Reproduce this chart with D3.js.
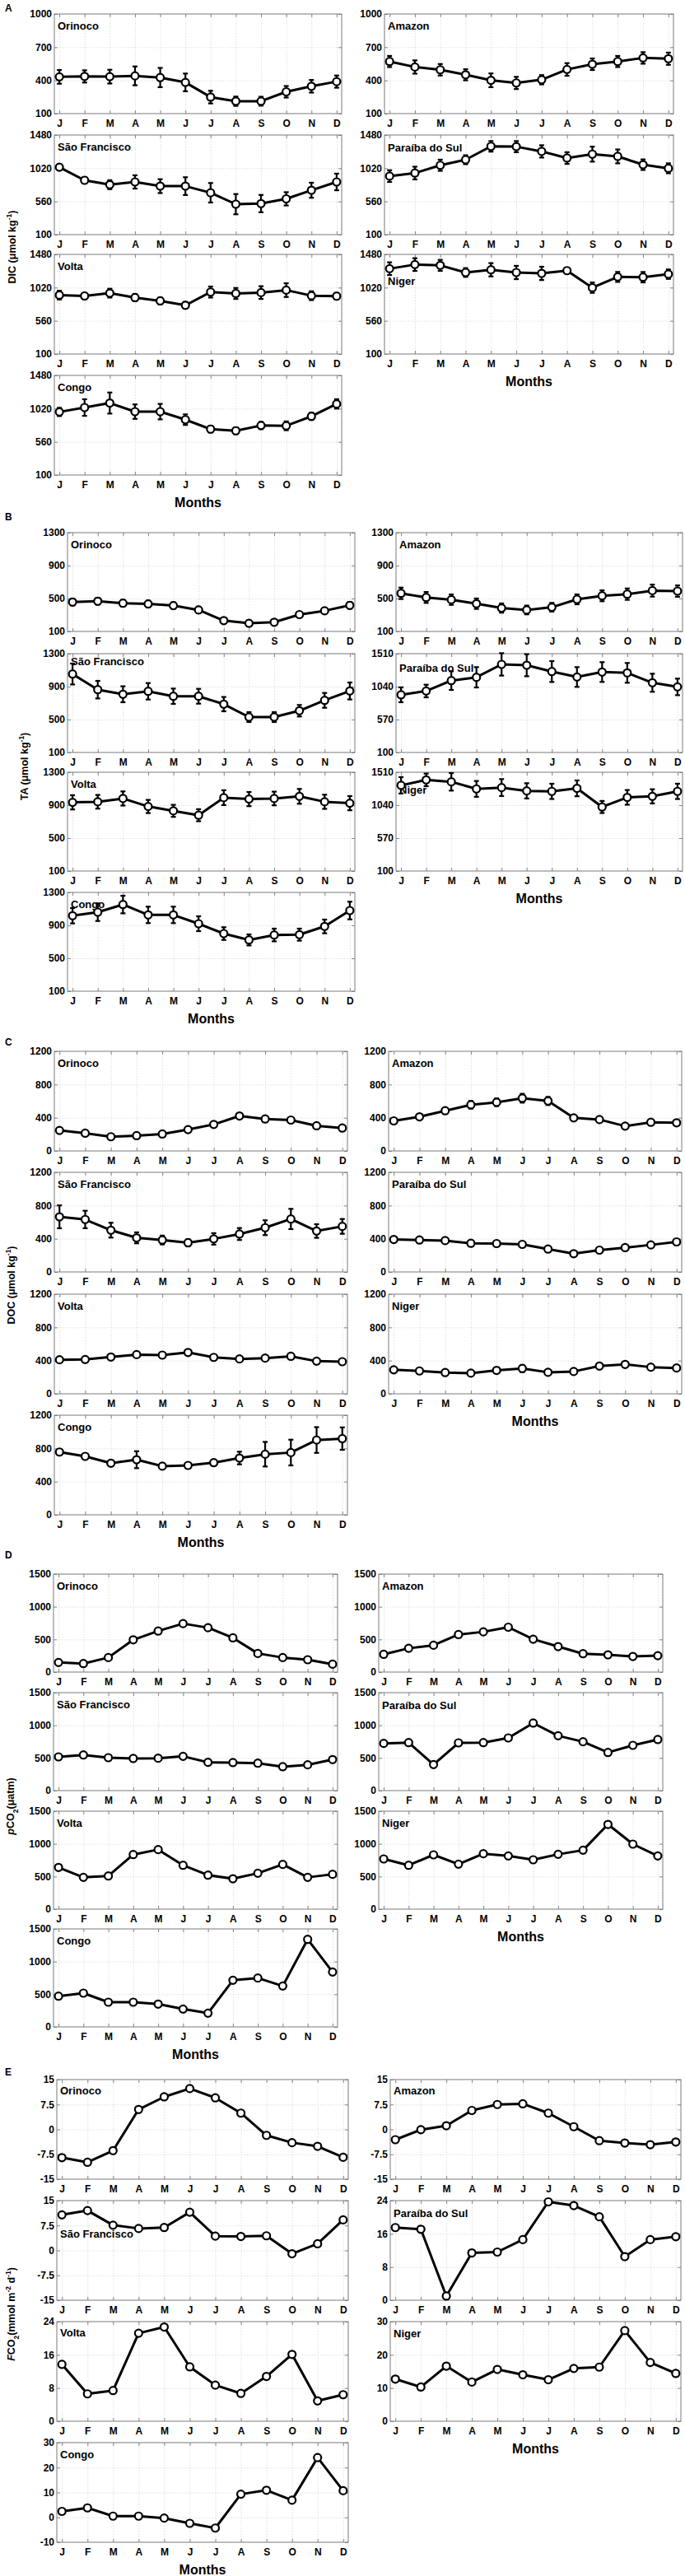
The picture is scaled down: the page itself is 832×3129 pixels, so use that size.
<!DOCTYPE html>
<html>
<head>
<meta charset="utf-8">
<script src="https://cdn.jsdelivr.net/npm/d3@7"></script>
<style>
  body { margin: 0; background: #fff; }
  svg { display: block; font-family: "Liberation Sans", Arial, Helvetica, sans-serif; font-weight: bold; }
  .grid line { stroke: #c8c8c8; stroke-width: 0.7; stroke-dasharray: 1.2 2; }
  .grid .domain { display: none; }
  .ax .domain { display: none; }
  .ax line { stroke: #7a7a7a; stroke-width: 0.9; }
  .ax text { fill: #000; font-size: 12px; font-weight: bold; }
</style>
</head>
<body>
<script>
const months = ["J","F","M","A","M","J","J","A","S","O","N","D"];
const rivers = ["Orinoco","Amazon","São Francisco","Paraíba do Sul","Volta","Niger","Congo"];

// A: DIC (umol/kg)
const dicVal = [
  [432,436,434,441,426,382,249,212,212,297,347,389],
  [571,521,496,451,401,377,406,499,546,571,603,596],
  [1034,853,792,830,772,772,680,522,530,596,715,830],
  [911,953,1061,1138,1323,1319,1253,1161,1215,1184,1069,1019],
  [916,904,943,882,836,775,958,939,951,985,908,901],
  [1282,1339,1328,1229,1267,1229,1217,1255,1019,1168,1164,1206],
  [974,1035,1097,978,978,867,736,713,786,782,913,1085]
];
const dicErr = [
  [62,55,62,85,87,80,57,42,40,52,57,55],
  [50,60,52,50,62,55,42,57,52,50,52,55],
  [42,45,62,92,96,123,135,140,120,92,104,115],
  [81,88,77,62,73,77,85,81,104,96,73,69],
  [61,42,61,50,46,46,76,76,88,95,61,46],
  [88,88,76,61,92,92,92,38,72,69,72,65],
  [57,115,146,100,107,73,46,46,50,61,50,65]
];
const dicTicks = [
  [100,400,700,1000],[100,400,700,1000],
  [100,560,1020,1480],[100,560,1020,1480],
  [100,560,1020,1480],[100,560,1020,1480],
  [100,560,1020,1480]
];

// B: TA (umol/kg)
const taVal = [
  [457,467,443,434,414,361,232,199,212,305,351,417],
  [563,513,486,437,384,361,394,490,533,553,596,590],
  [1053,863,807,843,783,783,687,530,530,607,733,847],
  [923,977,1126,1173,1357,1345,1255,1177,1248,1236,1095,1036],
  [934,941,981,884,831,778,991,974,981,1007,941,924],
  [1323,1401,1373,1272,1291,1244,1237,1280,1014,1151,1166,1237],
  [1017,1060,1153,1027,1027,920,800,723,783,787,887,1080]
];
const taErr = [
  [40,40,40,40,40,40,33,33,33,33,33,40],
  [69,66,63,63,56,53,53,60,66,69,73,69],
  [127,107,97,100,93,90,87,60,60,70,90,103],
  [106,90,133,145,160,157,149,141,141,141,129,118],
  [86,83,86,80,73,73,90,86,83,90,86,86],
  [117,90,125,113,121,109,109,113,86,105,101,109],
  [93,107,107,100,100,90,77,67,77,73,83,107]
];
const taTicks = [
  [100,500,900,1300],[100,500,900,1300],
  [100,500,900,1300],[100,570,1040,1510],
  [100,500,900,1300],[100,570,1040,1510],
  [100,500,900,1300]
];

// C: DOC (umol/kg)
const docVal = [
  [247,214,171,184,204,257,319,421,385,372,303,276],
  [362,411,484,556,586,635,602,398,378,299,345,339],
  [664,632,503,411,385,352,398,457,533,638,493,549],
  [391,385,378,345,342,332,276,220,263,293,326,362],
  [410,413,443,472,466,498,439,420,430,452,393,387],
  [289,275,256,249,282,305,259,269,334,354,321,311],
  [756,704,622,664,586,595,628,684,730,750,901,918]
];
const docErr = [
  [26,26,26,26,26,26,26,33,26,26,26,26],
  [26,26,33,46,46,53,49,26,26,26,26,26],
  [138,105,89,66,53,43,69,72,89,122,82,89],
  [20,20,20,20,20,20,20,20,20,20,20,20],
  [20,20,20,20,20,20,20,20,20,20,20,20],
  [20,20,20,20,26,43,23,23,20,20,23,20],
  [23,20,23,102,20,20,20,76,148,155,155,135]
];
const docTicks = [0,400,800,1200];

// D: pCO2 (uatm)
const pco2Val = [
  [147,130,222,494,628,742,679,524,285,222,189,121],
  [272,364,411,574,616,687,503,390,281,264,239,251],
  [517,546,504,492,496,525,433,429,420,366,395,475],
  [723,735,399,731,735,807,1034,840,748,584,693,782],
  [639,487,508,836,912,672,521,466,550,685,487,534],
  [769,672,832,689,849,815,756,840,903,1298,996,815],
  [470,517,378,378,349,273,210,714,748,626,1340,840]
];
const pco2Ticks = [0,500,1000,1500];

// E: FCO2 (mmol m-2 d-1)
const fco2Val = [
  [-8.5,-9.9,-6.4,6.0,9.8,12.3,9.5,4.9,-1.8,-4.0,-5.1,-8.4],
  [-3.1,-0.1,1.1,5.7,7.5,7.7,4.9,0.8,-3.4,-4.1,-4.6,-3.8],
  [10.7,12.0,7.6,6.6,6.9,11.5,4.3,4.2,4.4,-1.0,2.0,9.2],
  [17.5,17.1,1.0,11.4,11.6,14.6,23.7,22.8,20.1,10.5,14.6,15.3],
  [13.7,6.6,7.4,21.2,22.7,13.1,8.7,6.7,10.8,16.1,4.9,6.4],
  [12.7,10.3,16.6,11.8,15.6,14.0,12.5,15.9,16.3,27.3,17.7,14.4],
  [2.4,3.8,0.5,0.5,-0.3,-2.4,-4.3,9.3,10.9,6.9,24.0,10.7]
];
const fco2Ticks = [
  [-15,-7.5,0,7.5,15],[-15,-7.5,0,7.5,15],
  [-15,-7.5,0,7.5,15],[0,8,16,24],
  [0,8,16,24],[0,10,20,30],
  [-10,0,10,20,30]
];

// layout of the five blocks
const blocks = [
  { letter: "A", val: dicVal, err: dicErr, ticks: dicTicks,
    rows: [17,164,309,456], h: 121, cols: [[66,415],[467,818]],
    letterY: 14, titleX: 15, titleY: 300, nameDy: [19,19,19,20,19,37,19],
    title: [["DIC (μmol kg",""],["-1","sup"],[")",""]] },
  { letter: "B", val: taVal, err: taErr, ticks: taTicks,
    rows: [647,794,938,1084], h: 120, cols: [[82,431],[481,829]],
    letterY: 632, titleX: 30, titleY: 931, nameDy: [19,19,14,22,19,26,19],
    title: [["TA (μmol kg",""],["-1","sup"],[")",""]] },
  { letter: "C", val: docVal, err: docErr, ticks: docTicks,
    rows: [1277,1424,1572,1719], h: 121, cols: [[66,422],[472,828]],
    letterY: 1270, titleX: 14, titleY: 1561, nameDy: [19,19,19,19,19,19,19],
    title: [["DOC (μmol kg",""],["-1","sup"],[")",""]] },
  { letter: "D", val: pco2Val, err: null, ticks: pco2Ticks,
    rows: [1912,2056,2200,2343], h: 119, cols: [[65,410],[460,805]],
    letterY: 1893, titleX: 13, titleY: 2194, nameDy: [19,19,19,20,19,19,19],
    title: [["p","it"],["CO",""],["2","sub"],["(μatm)",""]] },
  { letter: "E", val: fco2Val, err: null, ticks: fco2Ticks,
    rows: [2526,2673,2820,2967], h: 121, cols: [[69,423],[474,827]],
    letterY: 2521, titleX: 14, titleY: 2811, nameDy: [18,18,45,20,18,19,19],
    title: [["F","it"],["CO",""],["2","sub"],["(mmol m",""],["-2","sup"],[" d",""],["-1","sup"],[")",""]] }
];

const svg = d3.select("body").append("svg")
  .attr("width", 832).attr("height", 3129);

const monthIdx = d3.range(1, 13);

blocks.forEach(b => {
  const g = svg.append("g");

  g.append("text").attr("x", 6).attr("y", b.letterY)
    .attr("font-size", 12).text(b.letter);

  // y title
  const t = g.append("text")
    .attr("transform", `translate(${b.titleX},${b.titleY}) rotate(-90)`)
    .attr("text-anchor", "middle").attr("font-size", 12.5)
    .attr("dy", "0.35em");
  b.title.forEach(([s, k]) => {
    const ts = t.append("tspan").text(s);
    if (k === "sup") ts.attr("font-size", 8.5).attr("baseline-shift", "super");
    if (k === "sub") ts.attr("font-size", 8.5).attr("baseline-shift", "sub");
    if (k === "it") ts.attr("font-style", "italic");
  });

  for (let k = 0; k < 7; k++) {
    const row = Math.floor(k / 2), col = k % 2;
    const [x0, x1] = b.cols[col];
    const top = b.rows[row], h = b.h;
    const ticks = Array.isArray(b.ticks[0]) ? b.ticks[k] : b.ticks;
    drawPanel(g, x0, x1, top, h, b.val[k], b.err ? b.err[k] : null,
              ticks, rivers[k], b.nameDy[k]);
  }

  // "Months" labels under the last panel of each column
  const mx = [b.cols[0], b.cols[1]].map(c => (c[0] + c[1]) / 2);
  g.append("text").attr("x", mx[1]).attr("y", b.rows[2] + b.h + 39)
    .attr("text-anchor", "middle").attr("font-size", 16).text("Months");
  g.append("text").attr("x", mx[0]).attr("y", b.rows[3] + b.h + 39)
    .attr("text-anchor", "middle").attr("font-size", 16).text("Months");
});

function drawPanel(g, x0, x1, top, h, vals, errs, ticks, name, nameDy) {
  const x = d3.scaleLinear().domain([0.8, 12.2]).range([x0, x1]);
  const y = d3.scaleLinear().domain([ticks[0], ticks[ticks.length - 1]]).range([top + h, top]);
  const w = x1 - x0;
  const p = g.append("g");

  // dotted grid
  p.append("g").attr("class", "grid")
    .attr("transform", `translate(0,${top + h})`)
    .call(d3.axisBottom(x).tickValues(monthIdx).tickSize(-h).tickFormat(""));
  p.append("g").attr("class", "grid")
    .attr("transform", `translate(${x0},0)`)
    .call(d3.axisLeft(y).tickValues(ticks.slice(1, -1)).tickSize(-w).tickFormat(""));

  p.append("rect").attr("x", x0).attr("y", top).attr("width", w).attr("height", h)
    .attr("fill", "none").attr("stroke", "#7a7a7a").attr("stroke-width", 1);

  p.append("g").attr("class", "ax")
    .attr("transform", `translate(0,${top + h})`)
    .call(d3.axisBottom(x).tickValues(monthIdx).tickFormat((d, i) => months[i])
      .tickSizeInner(-4).tickSizeOuter(0).tickPadding(7));
  p.append("g").attr("class", "ax")
    .attr("transform", `translate(0,${top})`)
    .call(d3.axisTop(x).tickValues(monthIdx).tickFormat("")
      .tickSizeInner(-4).tickSizeOuter(0));
  p.append("g").attr("class", "ax")
    .attr("transform", `translate(${x0},0)`)
    .call(d3.axisLeft(y).tickValues(ticks).tickFormat(d => String(d))
      .tickSizeInner(-4).tickSizeOuter(0).tickPadding(3));
  p.append("g").attr("class", "ax")
    .attr("transform", `translate(${x1},0)`)
    .call(d3.axisRight(y).tickValues(ticks).tickFormat("")
      .tickSizeInner(-4).tickSizeOuter(0));

  p.append("text").attr("x", x0 + 4).attr("y", top + nameDy)
    .attr("font-size", 13).text(name);

  const line = d3.line().x((d, i) => x(i + 1)).y(d => y(d));
  p.append("path").datum(vals).attr("d", line)
    .attr("fill", "none").attr("stroke", "#000").attr("stroke-width", 3)
    .attr("stroke-linejoin", "round");

  if (errs) {
    const eb = p.append("g").attr("stroke", "#000").attr("stroke-width", 2.2);
    vals.forEach((v, i) => {
      const cx = x(i + 1), ya = y(v - errs[i]), yb = y(v + errs[i]);
      eb.append("line").attr("x1", cx).attr("x2", cx).attr("y1", ya).attr("y2", yb);
      eb.append("line").attr("x1", cx - 3).attr("x2", cx + 3).attr("y1", ya).attr("y2", ya);
      eb.append("line").attr("x1", cx - 3).attr("x2", cx + 3).attr("y1", yb).attr("y2", yb);
    });
  }

  p.selectAll("circle.pt").data(vals).enter().append("circle")
    .attr("class", "pt")
    .attr("cx", (d, i) => x(i + 1)).attr("cy", d => y(d)).attr("r", 4.5)
    .attr("fill", "#fff").attr("stroke", "#000").attr("stroke-width", 2.2);
}
</script>
</body>
</html>
